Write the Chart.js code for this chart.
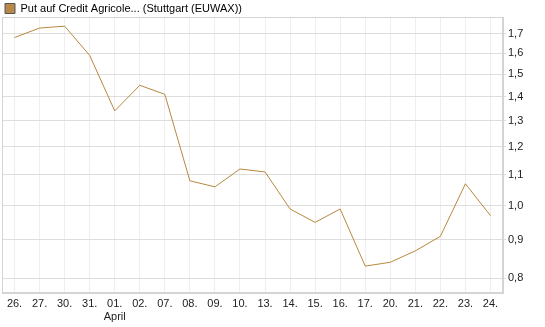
<!DOCTYPE html>
<html>
<head>
<meta charset="utf-8">
<script src="https://cdn.jsdelivr.net/npm/chart.js@4.4.1/dist/chart.umd.min.js"></script>
<style>
    html, body { margin: 0; padding: 0; background: #fff; }
    #wrap { width: 545px; height: 327px; }
</style>
</head>
<body>
<div id="wrap"><canvas id="priceChart" width="545" height="327"></canvas></div>
<script>
// Chart data
const dates = ['26.', '27.', '30.', '31.', ['01.', 'April'], '02.', '07.', '08.', '09.', '10.',
               '13.', '14.', '15.', '16.', '17.', '20.', '21.', '22.', '23.', '24.'];
const prices = [1.68, 1.73, 1.74, 1.59, 1.34, 1.45, 1.41, 1.08, 1.06, 1.12,
                1.11, 0.99, 0.95, 0.99, 0.83, 0.84, 0.87, 0.91, 1.07, 0.97];
const yTicks = [0.8, 0.9, 1.0, 1.1, 1.2, 1.3, 1.4, 1.5, 1.6, 1.7];
const seriesName = 'Put auf Credit Agricole... (Stuttgart (EUWAX))';

const FONT = { family: '"Liberation Sans", Arial, sans-serif', size: 11 };

// frame around the plot area
const frame = {
    id: 'frame',
    beforeDatasetsDraw(chart) {
        const { ctx, chartArea: a } = chart;
        ctx.save();
        ctx.strokeStyle = '#d4d4d4';
        ctx.lineWidth = 1;
        ctx.strokeRect(Math.round(a.left) + 0.5, Math.round(a.top) + 0.5,
                       Math.round(a.right - a.left) - 1, Math.round(a.bottom - a.top) - 1);
        ctx.restore();
    }
};

new Chart(document.getElementById('priceChart').getContext('2d'), {
    type: 'line',
    data: {
        labels: dates,
        datasets: [{
            label: seriesName,
            data: prices,
            borderColor: '#b8873e',
            backgroundColor: '#b8884a',
            borderWidth: 1,
            pointRadius: 0,
            tension: 0
        }]
    },
    options: {
        responsive: false,
        animation: false,
        layout: { padding: { left: 2, right: 0, top: 0, bottom: 0 } },
        plugins: {
            legend: {
                position: 'top',
                align: 'start',
                maxHeight: 17,
                labels: {
                    boxWidth: 10,
                    boxHeight: 10,
                    padding: 3,
                    color: '#222',
                    font: FONT,
                    generateLabels: chart => [{
                        text: seriesName,
                        fillStyle: '#b8884a',
                        strokeStyle: '#555',
                        lineWidth: 1,
                        datasetIndex: 0
                    }]
                }
            },
            tooltip: { enabled: false }
        },
        scales: {
            x: {
                offset: true,
                grid: { offset: false, color: '#eeeeee', drawTicks: false },
                border: { color: '#d4d4d4' },
                ticks: { color: '#222', font: FONT, padding: 4, maxRotation: 0, autoSkip: false },
                afterFit: s => { s.height = 34; }
            },
            y: {
                type: 'logarithmic',
                position: 'right',
                min: 0.764,
                max: 1.79,
                grid: { color: '#dddddd', tickLength: 3 },
                border: { color: '#d4d4d4' },
                afterBuildTicks: s => { s.ticks = yTicks.map(v => ({ value: v })); },
                ticks: {
                    color: '#222',
                    font: FONT,
                    padding: 2,
                    callback: v => v.toFixed(1).replace('.', ',')
                },
                afterFit: s => { s.width = 42; }
            }
        }
    },
    plugins: [frame]
});
</script>
</body>
</html>
